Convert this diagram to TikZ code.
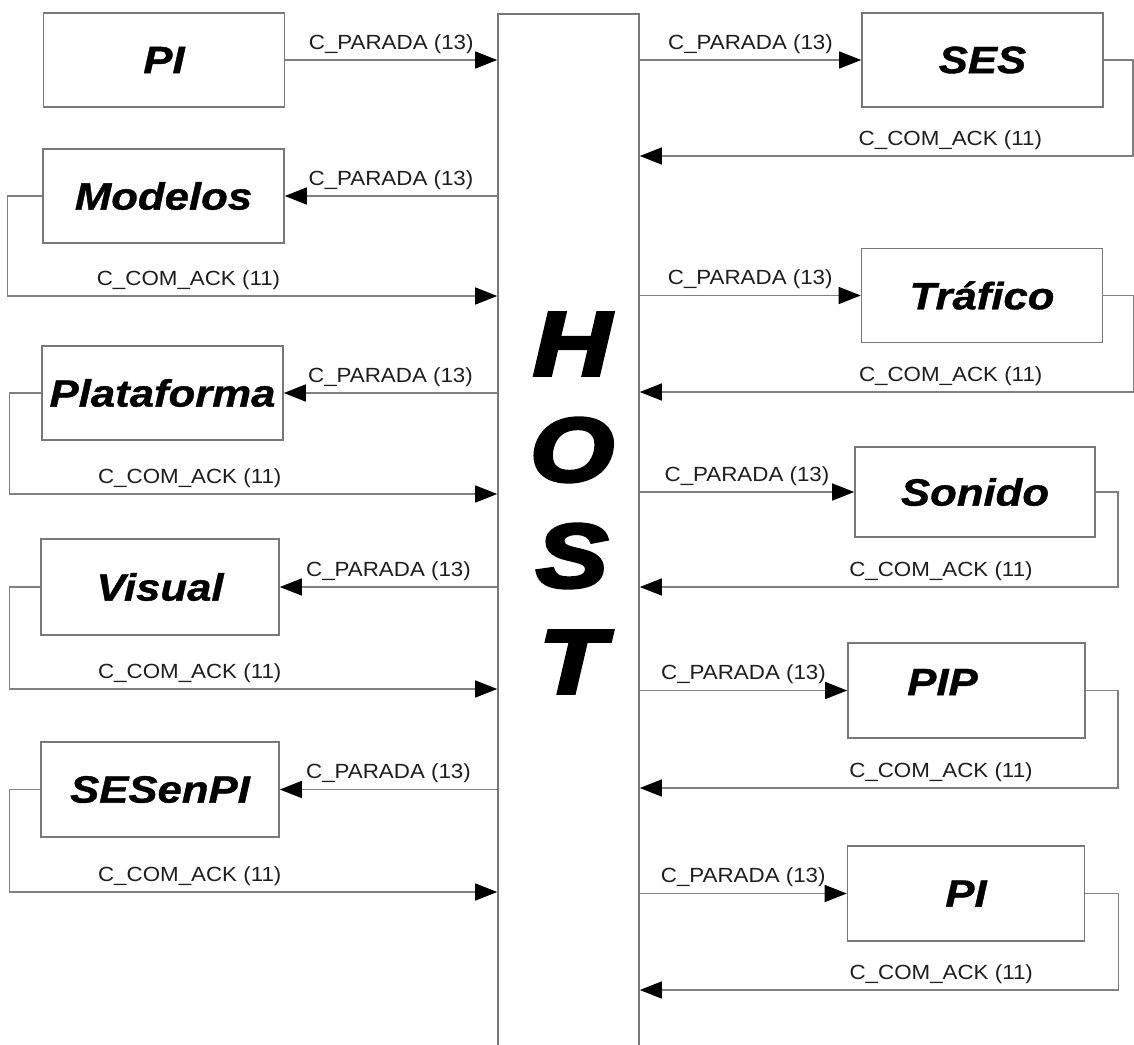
\documentclass[tikz,border=0pt]{standalone}
\usepackage{fontspec}
\setmainfont{Liberation Sans}
\newfontfamily\msgfont{Liberation Sans}[FakeStretch=1.09]
\newfontfamily\modfont{Liberation Sans}[FakeStretch=1.15,FakeBold=1]
\newfontfamily\hostfont{Liberation Sans}[FakeStretch=1.2,FakeBold=4]
\usepackage{tikz}
\usetikzlibrary{arrows.meta,positioning}
\definecolor{linegray}{RGB}{128,128,128}
\definecolor{boxgray}{RGB}{120,120,120}
\definecolor{textgray}{RGB}{30,30,30}
\tikzset{
  module/.style={draw=boxgray,line width=1.6pt,minimum width=241pt,minimum height=94pt,
    inner sep=0pt,font=\modfont\bfseries\itshape\fontsize{38}{40}\selectfont},
  msg/.style={draw=linegray,line width=1.4pt,-{Triangle[length=22pt,width=17pt,black]}},
  msglabel/.style={anchor=base,yshift=11pt,inner sep=0pt,text=textgray,
    font=\msgfont\fontsize{20.5}{24}\selectfont}
}

\begin{document}
\begin{tikzpicture}[x=1pt,y=-1pt]

\fill[white] (0,0) rectangle (1134,1044);
\clip (0,0) rectangle (1134,1044);

% central host column
\node[draw=boxgray,line width=1.6pt,minimum width=141pt,minimum height=1060pt,
  inner sep=0pt,anchor=north] (host) at (568.5,13) {};
\node[font=\hostfont\bfseries\itshape\fontsize{90}{106}\selectfont,align=center,
  inner sep=0pt] (hostname) at (572,503) {H\\O\\S\\T};

% modules on the left
\node[module] (pileft) at (164,60) {PI};
\node[module] (modelos) at (163.5,196) {Modelos};
\node[module] (plataforma) at (162.5,393) {Plataforma};
\node[module,minimum width=238pt,minimum height=96pt] (visual) at (160,587) {Visual};
\node[module,minimum width=238pt,minimum height=95pt] (sesenpi) at (160,789.5) {SESenPI};

% modules on the right
\node[module] (ses) at (982.5,60) {SES};
\node[module] (trafico) at (982,295.5) {Tráfico};
\node[module,minimum width=240pt,minimum height=90pt] (sonido) at (975,492) {Sonido};
\node[module,minimum width=237pt,minimum height=95pt] (pip) at (966.5,690.5)
  {\hspace*{-48pt}\raisebox{17pt}{PIP}};
\node[module,minimum width=237pt,minimum height=95pt] (piright) at (966,893.5) {PI};

% levels of the acknowledge lines
\coordinate (ackmodelos) at (0,296);
\coordinate (ackplataforma) at (0,494);
\coordinate (ackvisual) at (0,689);
\coordinate (acksesenpi) at (0,892);
\coordinate (ackses) at (0,156);
\coordinate (acktrafico) at (0,392);
\coordinate (acksonido) at (0,587);
\coordinate (ackpip) at (0,788);
\coordinate (ackpi) at (0,990);

% left side messages
\draw[msg] (pileft) -- (pileft -| host.west)
  node[msglabel,midway] {C\_PARADA (13)};

\draw[msg] (modelos -| host.west) -- (modelos)
  node[msglabel,midway] {C\_PARADA (13)};
\draw[msg] (modelos.west) -- ++(-35,0) |- (ackmodelos -| host.west)
  node[msglabel,pos=.685] {C\_COM\_ACK (11)};

\draw[msg] (plataforma -| host.west) -- (plataforma)
  node[msglabel,midway] {C\_PARADA (13)};
\draw[msg] (plataforma.west) -- ++(-32,0) |- (ackplataforma -| host.west)
  node[msglabel,pos=.685] {C\_COM\_ACK (11)};

\draw[msg] (visual -| host.west) -- (visual)
  node[msglabel,midway] {C\_PARADA (13)};
\draw[msg] (visual.west) -- ++(-31,0) |- (ackvisual -| host.west)
  node[msglabel,pos=.685] {C\_COM\_ACK (11)};

\draw[msg] (sesenpi -| host.west) -- (sesenpi)
  node[msglabel,midway] {C\_PARADA (13)};
\draw[msg] (sesenpi.west) -- ++(-31,0) |- (acksesenpi -| host.west)
  node[msglabel,pos=.685] {C\_COM\_ACK (11)};

% right side messages
\draw[msg] (ses -| host.east) -- (ses)
  node[msglabel,midway] {C\_PARADA (13)};
\draw[msg] (ses.east) -- ++(29,0) |- (ackses -| host.east)
  node[msglabel,pos=.685] {C\_COM\_ACK (11)};

\draw[msg] (trafico -| host.east) -- (trafico)
  node[msglabel,midway] {C\_PARADA (13)};
\draw[msg] (trafico.east) -- ++(30,0) |- (acktrafico -| host.east)
  node[msglabel,pos=.685] {C\_COM\_ACK (11)};

\draw[msg] (sonido -| host.east) -- (sonido)
  node[msglabel,midway] {C\_PARADA (13)};
\draw[msg] (sonido.east) -- ++(22,0) |- (acksonido -| host.east)
  node[msglabel,pos=.685] {C\_COM\_ACK (11)};

\draw[msg] (pip -| host.east) -- (pip)
  node[msglabel,midway] {C\_PARADA (13)};
\draw[msg] (pip.east) -- ++(32,0) |- (ackpip -| host.east)
  node[msglabel,pos=.685] {C\_COM\_ACK (11)};

\draw[msg] (piright -| host.east) -- (piright)
  node[msglabel,midway] {C\_PARADA (13)};
\draw[msg] (piright.east) -- ++(33,0) |- (ackpi -| host.east)
  node[msglabel,pos=.685] {C\_COM\_ACK (11)};

\end{tikzpicture}
\end{document}
